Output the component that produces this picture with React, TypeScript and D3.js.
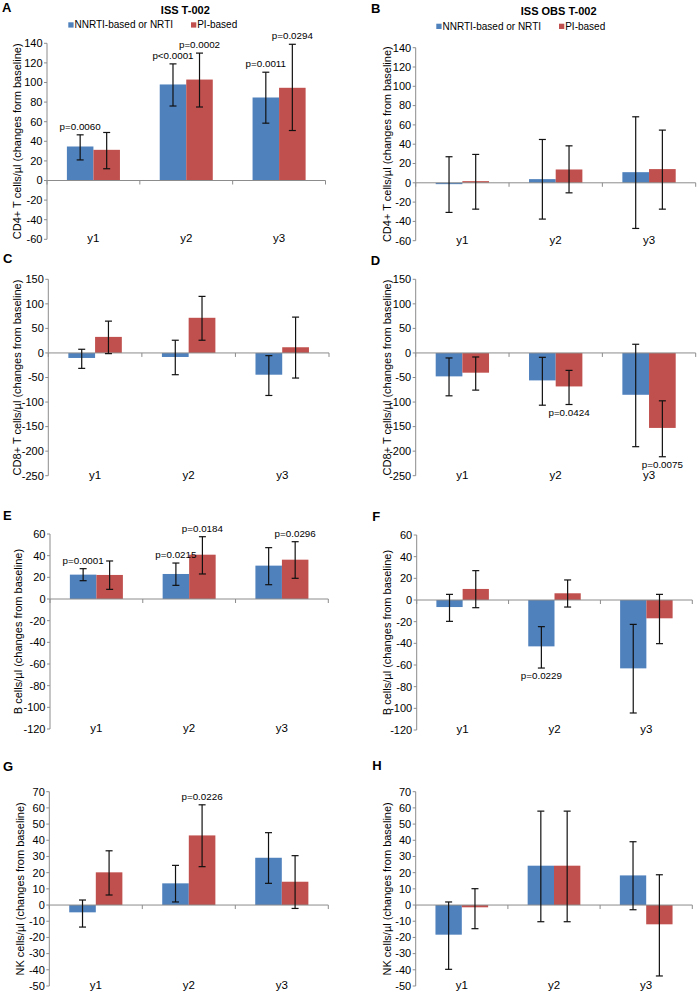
import React from "react";
import * as d3 from "d3";

// ---------- data ----------
const categories = ["y1", "y2", "y3"];
const seriesNames = ["NNRTI-based or NRTI", "PI-based"];

// A: ISS T-002, CD4+
const aNnrtiMean = [34.7, 98, 84.7];
const aNnrtiLow = [21, 76, 58.5];
const aNnrtiHigh = [46.6, 119, 110.5];
const aPiMean = [31.3, 103, 94.6];
const aPiLow = [12, 75, 51];
const aPiHigh = [49, 130, 139];
// B: ISS OBS T-002, CD4+
const bNnrtiMean = [-1.4, 3.8, 11];
const bNnrtiLow = [-30.7, -37.6, -47.3];
const bNnrtiHigh = [27, 44.9, 68.4];
const bPiMean = [1.7, 13.8, 14.2];
const bPiLow = [-27.3, -10.4, -27.3];
const bPiHigh = [29.4, 38.3, 54.6];
// C: ISS, CD8+
const cNnrtiMean = [-10.2, -8.2, -44.3];
const cNnrtiLow = [-31.4, -44.3, -86.6];
const cNnrtiHigh = [7.5, 25.9, -5.5];
const cPiMean = [32.7, 71.6, 11.6];
const cPiLow = [-1.4, 25.9, -51.1];
const cPiHigh = [64.8, 115.2, 73];
// D: OBS, CD8+
const dNnrtiMean = [-47.7, -55.9, -85.2];
const dNnrtiLow = [-87.3, -106.4, -190.9];
const dNnrtiHigh = [-10.2, -8.9, 17.7];
const dPiMean = [-40.2, -68.2, -152.7];
const dPiLow = [-75.7, -105, -211.4];
const dPiHigh = [-8.2, -35.5, -97.5];
// E: ISS, B cells
const eNnrtiMean = [22.5, 23.1, 30.8];
const eNnrtiLow = [16.9, 12.6, 13.2];
const eNnrtiHigh = [28, 33.2, 47.4];
const ePiMean = [22.2, 40.9, 36.3];
const ePiLow = [8.9, 23.1, 19.1];
const ePiHigh = [35.1, 57.5, 52.9];
// F: OBS, B cells
const fNnrtiMean = [-6.5, -42.8, -63.1];
const fNnrtiLow = [-19.7, -62.8, -104.3];
const fNnrtiHigh = [5.2, -24.6, -22.5];
const fPiMean = [10.2, 6.2, -16.9];
const fPiLow = [-7.1, -6.5, -40.3];
const fPiHigh = [27.1, 18.5, 5.2];
// G: ISS, NK cells
const gNnrtiMean = [-4.5, 13.4, 29.2];
const gNnrtiLow = [-13.6, 1.9, 13.4];
const gNnrtiHigh = [3.1, 24.5, 44.7];
const gPiMean = [20.2, 43, 14.4];
const gPiLow = [6.2, 23.7, -2.1];
const gPiHigh = [33.5, 61.9, 30.5];
// H: OBS, NK cells
const hNnrtiMean = [-18.3, 24.3, 18.3];
const hNnrtiLow = [-39.7, -10.3, -2.9];
const hNnrtiHigh = [1.9, 58, 39.1];
const hPiMean = [-1.4, 24.3, -11.9];
const hPiLow = [-14.6, -10.3, -43.8];
const hPiHigh = [10.1, 58, 18.7];

// tick labels
const ticksCD4 = [-60, -40, -20, 0, 20, 40, 60, 80, 100, 120, 140];
const ticksCD8 = [-250, -200, -150, -100, -50, 0, 50, 100, 150];
const ticksB = [-120, -100, -80, -60, -40, -20, 0, 20, 40, 60];
const ticksNK = [-50, -40, -30, -20, -10, 0, 10, 20, 30, 40, 50, 60, 70];

// p-value annotations: category, series index, text, side of error bar
const aPValues = [
  { cat: "y1", s: 0, text: "p=0.0060", side: "above" },
  { cat: "y2", s: 0, text: "p<0.0001", side: "above" },
  { cat: "y2", s: 1, text: "p=0.0002", side: "above" },
  { cat: "y3", s: 0, text: "p=0.0011", side: "above" },
  { cat: "y3", s: 1, text: "p=0.0294", side: "above" },
];
const dPValues = [
  { cat: "y2", s: 1, text: "p=0.0424", side: "below" },
  { cat: "y3", s: 1, text: "p=0.0075", side: "below" },
];
const ePValues = [
  { cat: "y1", s: 0, text: "p=0.0001", side: "above" },
  { cat: "y2", s: 0, text: "p=0.0215", side: "above" },
  { cat: "y2", s: 1, text: "p=0.0184", side: "above" },
  { cat: "y3", s: 1, text: "p=0.0296", side: "above" },
];
const fPValues = [{ cat: "y2", s: 0, text: "p=0.0229", side: "below" }];
const gPValues = [{ cat: "y2", s: 1, text: "p=0.0226", side: "above" }];

const titles = ["ISS T-002", "ISS OBS T-002"];

// ---------- style ----------
const FONT = "'Liberation Sans', Arial, Helvetica, sans-serif";
const COLORS = ["#4F81BD", "#C0504D"];
const AXIS = "#8c8c8c";

// ---------- panels (data + layout) ----------
const panels = [
  { letter: "A", lx: 2, ly: 12, x0: 47, x1: 325.5, yTop: 43.3, yBot: 239.3, labX: 16.7,
    ylabel: "CD4+ T cells/\u00b5l (changes form baseline)", ticks: ticksCD4,
    s: [[aNnrtiMean, aNnrtiLow, aNnrtiHigh], [aPiMean, aPiLow, aPiHigh]], pv: aPValues },
  { letter: "B", lx: 371, ly: 12.7, x0: 415.7, x1: 695.7, yTop: 47.7, yBot: 240.7, labX: 387.3,
    ylabel: "CD4+ T cells/\u00b5l (changes from baseline)", ticks: ticksCD4,
    s: [[bNnrtiMean, bNnrtiLow, bNnrtiHigh], [bPiMean, bPiLow, bPiHigh]], pv: [] },
  { letter: "C", lx: 3, ly: 262.7, x0: 48.3, x1: 329, yTop: 279.3, yBot: 475.7, labX: 16.7,
    ylabel: "CD8+ T cells/\u00b5l (changes from baseline)", ticks: ticksCD8,
    s: [[cNnrtiMean, cNnrtiLow, cNnrtiHigh], [cPiMean, cPiLow, cPiHigh]], pv: [] },
  { letter: "D", lx: 370.7, ly: 265, x0: 415.7, x1: 695.7, yTop: 279.3, yBot: 475.7, labX: 387.3,
    ylabel: "CD8+ T cells/\u00b5l (changes from baseline)", ticks: ticksCD8,
    s: [[dNnrtiMean, dNnrtiLow, dNnrtiHigh], [dPiMean, dPiLow, dPiHigh]], pv: dPValues },
  { letter: "E", lx: 3, ly: 520, x0: 50, x1: 328.3, yTop: 534, yBot: 729, labX: 18.3,
    ylabel: "B cells/\u00b5l (changes from baseline)", ticks: ticksB,
    s: [[eNnrtiMean, eNnrtiLow, eNnrtiHigh], [ePiMean, ePiLow, ePiHigh]], pv: ePValues },
  { letter: "F", lx: 372.3, ly: 520.7, x0: 416.7, x1: 692.3, yTop: 535, yBot: 730, labX: 387.3,
    ylabel: "B cells/\u00b5l (changes from baseline)", ticks: ticksB,
    s: [[fNnrtiMean, fNnrtiLow, fNnrtiHigh], [fPiMean, fPiLow, fPiHigh]], pv: fPValues },
  { letter: "G", lx: 3, ly: 770.7, x0: 49.3, x1: 328.3, yTop: 791.7, yBot: 986, labX: 20.3,
    ylabel: "NK cells/\u00b5l (changes from baseline)", ticks: ticksNK,
    s: [[gNnrtiMean, gNnrtiLow, gNnrtiHigh], [gPiMean, gPiLow, gPiHigh]], pv: gPValues },
  { letter: "H", lx: 372.3, ly: 770, x0: 415.7, x1: 692.3, yTop: 791.7, yBot: 986, labX: 387.3,
    ylabel: "NK cells/\u00b5l (changes from baseline)", ticks: ticksNK,
    s: [[hNnrtiMean, hNnrtiLow, hNnrtiHigh], [hPiMean, hPiLow, hPiHigh]], pv: [] },
];

function Panel({ p }: { p: any }) {
  const t0 = p.ticks[0];
  const t1 = p.ticks[p.ticks.length - 1];
  const y = d3.scaleLinear().domain([t0, t1]).range([p.yBot, p.yTop]);
  const x = d3.scaleBand().domain(categories).range([p.x0, p.x1]).paddingInner(0).paddingOuter(0);
  const xs = d3.scaleBand().domain(["0", "1"]).range([0, x.bandwidth()]).paddingInner(0).paddingOuter(0.75);
  const bw = xs.bandwidth();
  const y0 = y(0);
  const midY = (p.yTop + p.yBot) / 2;
  const cx = (cat: string, s: number) => (x(cat) as number) + (xs(String(s)) as number) + bw / 2;
  const boundaries = [0, 1, 2, 3].map((i) => p.x0 + x.step() * i);

  return (
    <g>
      <text x={p.lx} y={p.ly} fontFamily={FONT} fontWeight="bold" fontSize={13} fill="#000">
        {p.letter}
      </text>
      {/* bars */}
      {p.s.map((ser: number[][], si: number) =>
        categories.map((cat, ci) => {
          const v = ser[0][ci];
          return (
            <rect
              key={`b${si}${ci}`}
              x={(x(cat) as number) + (xs(String(si)) as number)}
              width={bw}
              y={Math.min(y(v), y0)}
              height={Math.abs(y(v) - y0)}
              fill={COLORS[si]}
            />
          );
        })
      )}
      {/* y axis */}
      <line x1={p.x0} x2={p.x0} y1={p.yTop} y2={p.yBot} stroke={AXIS} strokeWidth={1} />
      {p.ticks.map((t: number) => (
        <g key={`t${t}`}>
          <line x1={p.x0 - 3} x2={p.x0} y1={y(t)} y2={y(t)} stroke={AXIS} strokeWidth={1} />
          <text x={p.x0 - 4.5} y={y(t)} dy="0.35em" textAnchor="end" fontFamily={FONT} fontSize={11} fill="#000">
            {String(t)}
          </text>
        </g>
      ))}
      {/* zero line */}
      <line x1={p.x0} x2={p.x1} y1={y0} y2={y0} stroke={AXIS} strokeWidth={1} />
      {boundaries.map((bx, i) => (
        <line key={`xt${i}`} x1={bx} x2={bx} y1={y0} y2={y0 + 4} stroke={AXIS} strokeWidth={1} />
      ))}
      {/* category labels */}
      {categories.map((cat) => (
        <text
          key={`c${cat}`}
          x={(x(cat) as number) + x.bandwidth() / 2}
          y={p.yBot + 3}
          textAnchor="middle"
          fontFamily={FONT}
          fontSize={11.5}
          fill="#000"
        >
          {cat}
        </text>
      ))}
      {/* error bars */}
      {p.s.map((ser: number[][], si: number) =>
        categories.map((cat, ci) => {
          const c = cx(cat, si);
          const lo = y(ser[1][ci]);
          const hi = y(ser[2][ci]);
          return (
            <g key={`e${si}${ci}`} stroke="#111" strokeWidth={1.2}>
              <line x1={c} x2={c} y1={lo} y2={hi} />
              <line x1={c - 3.5} x2={c + 3.5} y1={lo} y2={lo} />
              <line x1={c - 3.5} x2={c + 3.5} y1={hi} y2={hi} />
            </g>
          );
        })
      )}
      {/* p-values */}
      {p.pv.map((a: any, i: number) => {
        const ci = categories.indexOf(a.cat);
        const ser = p.s[a.s];
        const ty = a.side === "above" ? y(ser[2][ci]) - 5 : y(ser[1][ci]) + 11;
        return (
          <text key={`p${i}`} x={cx(a.cat, a.s)} y={ty} textAnchor="middle" fontFamily={FONT} fontSize={9.8} fill="#000">
            {a.text}
          </text>
        );
      })}
      {/* y label */}
      <text
        transform={`translate(${p.labX},${midY}) rotate(-90)`}
        textAnchor="middle"
        dy="0.35em"
        fontFamily={FONT}
        fontSize={11}
        fill="#000"
      >
        {p.ylabel}
      </text>
    </g>
  );
}

function Legend({ cxTitle, titleY, title, sq1, sq2, ly }: any) {
  return (
    <g fontFamily={FONT}>
      <text x={cxTitle} y={titleY} textAnchor="middle" fontWeight="bold" fontSize={11}>
        {title}
      </text>
      <rect x={sq1} y={ly - 6} width={5.3} height={5.3} fill={COLORS[0]} />
      <text x={sq1 + 6.2} y={ly} fontSize={10}>
        {seriesNames[0]}
      </text>
      <rect x={sq2} y={ly - 6} width={5.3} height={5.3} fill={COLORS[1]} />
      <text x={sq2 + 6.2} y={ly} fontSize={10}>
        {seriesNames[1]}
      </text>
    </g>
  );
}

export default function App() {
  return (
    <svg
      width={698}
      height={993}
      viewBox="0 0 698 993"
      style={{ position: "absolute", left: 0, top: 0, background: "#fff" }}
    >
      <rect x={0} y={0} width={698} height={993} fill="#fff" />
      <Legend cxTitle={185.3} titleY={14.3} title={titles[0]} sq1={68.3} sq2={191} ly={28.3} />
      <Legend cxTitle={558.7} titleY={15} title={titles[1]} sq1={436.3} sq2={559} ly={29.7} />
      {panels.map((p) => (
        <Panel key={p.letter} p={p} />
      ))}
    </svg>
  );
}
